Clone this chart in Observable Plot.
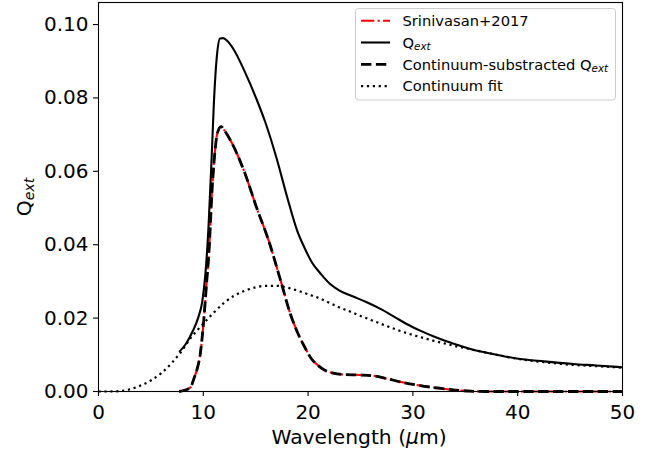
<!DOCTYPE html>
<html>
<head>
<meta charset="utf-8">
<script src="https://cdn.jsdelivr.net/npm/d3@7"></script>
<script src="https://cdn.jsdelivr.net/npm/@observablehq/plot@0.6"></script>
<style>
  html, body { margin: 0; padding: 0; background: white; }
  #chart { width: 654px; height: 452px; }
</style>
</head>
<body>
<div id="chart"></div>
<script>
// ---- Data ----
const qextWavelength = [7.7, 8.3, 9.0, 9.5, 9.9, 10.2, 10.5, 10.8, 11.0, 11.3, 11.6, 11.9, 12.3, 12.9, 13.9, 15.1, 15.9, 17.0, 18.0, 19.0, 19.6, 20.4, 21.2, 22.1, 23.0, 24.3, 25.6, 26.9, 28.2, 29.4, 30.7, 32.0, 33.9, 35.5, 37.5, 39.9, 42.5, 45.3, 47.5, 50.0];
const qextValues     = [0.0108, 0.0128, 0.0165, 0.0200, 0.0245, 0.0320, 0.0450, 0.0640, 0.0780, 0.0915, 0.0962, 0.0963, 0.0955, 0.0932, 0.0875, 0.0795, 0.0735, 0.0635, 0.0530, 0.0435, 0.0395, 0.0350, 0.0321, 0.0293, 0.0275, 0.0259, 0.0243, 0.0225, 0.0204, 0.0184, 0.0166, 0.0150, 0.0130, 0.0116, 0.0103, 0.0090, 0.0082, 0.0075, 0.0071, 0.0066];

const contWavelength = [0, 1, 2, 3, 4, 5, 6, 7, 7.8, 8.8, 9.4, 10, 11, 12, 13, 14, 15, 16, 17, 18, 19, 20, 21, 22, 23, 24, 25, 26, 27, 28, 29, 30, 31, 32, 33, 34, 35, 37.5, 40, 42.5, 45, 47.5, 50];
const contValues     = [0, 0, 0.0001, 0.0006, 0.0016, 0.0030, 0.0050, 0.0078, 0.0105, 0.0146, 0.0166, 0.0185, 0.0215, 0.0242, 0.0262, 0.0275, 0.0284, 0.0288, 0.0288, 0.0283, 0.0275, 0.0265, 0.0255, 0.0242, 0.0229, 0.0218, 0.0206, 0.0195, 0.0184, 0.0173, 0.0163, 0.0154, 0.0146, 0.0138, 0.0131, 0.0124, 0.0118, 0.0103, 0.0089, 0.0080, 0.0073, 0.0069, 0.0065];

const subWavelength = [7.7, 8.3, 8.8, 9.1, 9.4, 9.7, 10.0, 10.3, 10.55, 10.85, 11.1, 11.35, 11.7, 12.0, 12.6, 13.9, 15.1, 16.25, 17.4, 18.3, 19.0, 19.6, 20.3, 20.9, 21.6, 22.4, 23.5, 25.0, 26.2, 27.5, 29.0, 30.7, 32.5, 34.0, 35.5, 37.0, 50.0];
const subValues     = [0, 0.0004, 0.0012, 0.0035, 0.0060, 0.0100, 0.0180, 0.0290, 0.0385, 0.0555, 0.0650, 0.0705, 0.0722, 0.0712, 0.0684, 0.0600, 0.0500, 0.0410, 0.0300, 0.0212, 0.0160, 0.0125, 0.0090, 0.0072, 0.0058, 0.0050, 0.0046, 0.0045, 0.0043, 0.0035, 0.0025, 0.0016, 0.0009, 0.0004, 0.0001, 0, 0];

const sriniWavelength = [7.7, 8.3, 8.8, 9.1, 9.4, 9.7, 10.0, 10.3, 10.55, 10.85, 11.1, 11.35, 11.7, 12.0, 12.6, 13.9, 15.1, 16.25, 17.4, 18.3, 19.0, 19.6, 20.3, 20.9, 21.6, 22.4, 23.5, 25.0, 26.2, 27.5, 29.0, 30.7, 32.5, 34.0, 35.5, 37.0, 50.0];
const sriniValues     = [0, 0.0004, 0.0012, 0.0035, 0.0060, 0.0100, 0.0180, 0.0290, 0.0385, 0.0555, 0.0650, 0.0705, 0.0722, 0.0712, 0.0684, 0.0600, 0.0500, 0.0410, 0.0300, 0.0212, 0.0160, 0.0125, 0.0090, 0.0072, 0.0058, 0.0050, 0.0046, 0.0045, 0.0043, 0.0035, 0.0025, 0.0016, 0.0009, 0.0004, 0.0001, 0, 0];

const xTicks = [0, 10, 20, 30, 40, 50];
const yTicks = [0, 0.02, 0.04, 0.06, 0.08, 0.10];

const toRows = (xs, ys) => xs.map((x, i) => ({x, y: ys[i]}));
const qext = toRows(qextWavelength, qextValues);
const cont = toRows(contWavelength, contValues);
const sub = toRows(subWavelength, subValues);
const srini = toRows(sriniWavelength, sriniValues);

const FONT = "DejaVu Sans";
const styles = {
  srini: {stroke: "red", strokeWidth: 2.1, strokeDasharray: "13.3,3.3,2.1,3.3"},
  qext:  {stroke: "black", strokeWidth: 2.1},
  sub:   {stroke: "black", strokeWidth: 2.8, strokeDasharray: "10.4,4.5"},
  cont:  {stroke: "black", strokeWidth: 2.2, strokeDasharray: "2.2,3.7"}
};
const common = {x: "x", y: "y", curve: "monotone-x", strokeLinecap: "butt", strokeLinejoin: "round"};

const chart = Plot.plot({
  width: 654,
  height: 452,
  marginLeft: 98,
  marginRight: 32,
  marginTop: 2,
  marginBottom: 61,
  style: {fontFamily: FONT, background: "white", color: "black", overflow: "visible"},
  x: {domain: [0, 50]},
  y: {domain: [0, 0.106]},
  marks: [
    Plot.line(srini, {...common, ...styles.srini}),
    Plot.line(qext, {...common, ...styles.qext}),
    Plot.line(sub, {...common, ...styles.sub}),
    Plot.line(cont, {...common, ...styles.cont}),
    Plot.frame({stroke: "black", strokeWidth: 1.1}),
    Plot.axisX({ticks: xTicks, tickSize: 5, tickPadding: 8, label: null, fontSize: 20, strokeWidth: 1.1}),
    Plot.axisY({ticks: yTicks, tickSize: 5, tickPadding: 5, tickFormat: d3.format(".2f"), label: null, fontSize: 20, strokeWidth: 1.1})
  ]
});
document.getElementById("chart").appendChild(chart);

// ---- Axis labels and legend (text with subscripts) ----
const svg = d3.select(chart);
const xl = svg.append("text")
  .attr("x", 359).attr("y", 444)
  .attr("text-anchor", "middle")
  .attr("font-family", FONT).attr("font-size", 20.3).attr("fill", "black");
xl.append("tspan").text("Wavelength (");
xl.append("tspan").attr("font-style", "italic").text("\u03bc");
xl.append("tspan").text("m)");

const yl = svg.append("text")
  .attr("transform", "translate(31,197) rotate(-90)")
  .attr("text-anchor", "middle")
  .attr("font-family", FONT).attr("font-size", 20.3).attr("fill", "black");
yl.append("tspan").text("Q");
yl.append("tspan").attr("font-style", "italic").attr("font-size", 14.2).attr("dy", 3).text("ext");

const legendItems = [
  {key: "srini", parts: [["Srinivasan+2017", false]]},
  {key: "qext", parts: [["Q", false], ["ext", true]]},
  {key: "sub", parts: [["Continuum-substracted Q", false], ["ext", true]]},
  {key: "cont", parts: [["Continuum fit", false]]}
];
const lg = svg.append("g");
lg.append("rect")
  .attr("x", 355.5).attr("y", 8.5).attr("width", 260).attr("height", 91.5)
  .attr("rx", 3).attr("fill", "white").attr("fill-opacity", 0.8)
  .attr("stroke", "#cccccc").attr("stroke-width", 1);
legendItems.forEach((item, i) => {
  const cy = 20.7 + i * 21.8;
  const s = styles[item.key];
  lg.append("line")
    .attr("x1", 361).attr("x2", 390).attr("y1", cy).attr("y2", cy)
    .attr("stroke", s.stroke).attr("stroke-width", s.strokeWidth)
    .attr("stroke-linecap", "butt")
    .attr("stroke-dasharray", s.strokeDasharray || null);
  const t = lg.append("text")
    .attr("x", 402.5).attr("y", cy + 5.3)
    .attr("text-anchor", "start")
    .attr("font-family", FONT).attr("font-size", 14.7).attr("fill", "black");
  item.parts.forEach(([txt, sub]) => {
    const sp = t.append("tspan").text(txt);
    if (sub) sp.attr("font-style", "italic").attr("font-size", 10.3).attr("dy", 2.5);
  });
});
</script>
</body>
</html>
